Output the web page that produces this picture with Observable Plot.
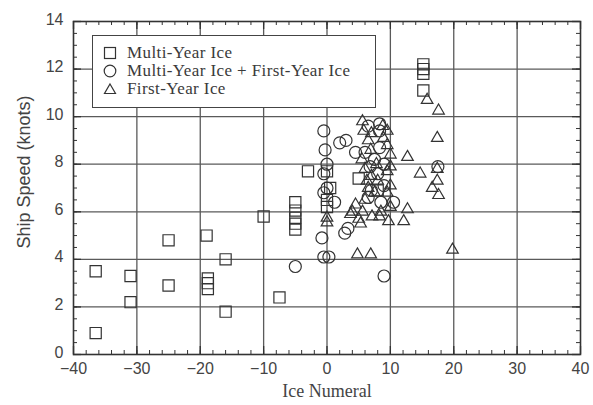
<!DOCTYPE html>
<html><head><meta charset="utf-8">
<script src="https://cdn.jsdelivr.net/npm/d3@7"></script>
<script src="https://cdn.jsdelivr.net/npm/@observablehq/plot@0.6"></script>
<style>
body{margin:0;background:#fff;}
#wrap{position:relative;width:593px;height:405px;}
#legend{position:absolute;left:92px;top:35px;width:284px;height:73px;border:1.5px solid #444;background:#fff;font-family:"Liberation Serif",serif;font-size:17px;letter-spacing:0.4px;color:#3a3a3a;box-sizing:border-box;}
.row{position:absolute;left:10px;height:16px;line-height:16px;display:flex;align-items:center;white-space:nowrap;}
.row span{line-height:16px;display:inline-block;height:16px;}
.row svg{margin-right:10px;}
</style></head>
<body><div id="wrap"></div>
<script>
// Data: [ice numeral, ship speed (knots)]
const multiYearIce = [
  [-36.5,3.5],[-36.5,0.9],[-31,3.3],[-31,2.2],[-25,4.8],[-25,2.9],[-19,5.0],
  [-18.8,3.2],[-18.8,3.0],[-18.8,2.75],[-16,4.0],[-16,1.8],[-10,5.8],[-7.5,2.4],
  [-5,6.4],[-5,6.05],[-5,5.75],[-5,5.5],[-5,5.25],[-3,7.7],[0,7.7],[0,6.5],[0,6.2],
  [0.5,7.0],[5,7.4],[8,6.9],[15.2,12.2],[15.2,12.0],[15.2,11.8],[15.2,11.1]
];
const mixedIce = [
  [-5,3.7],[-0.5,9.4],[-0.3,8.6],[0,8.0],[-0.5,7.6],[0,7.0],[-0.5,6.8],[-0.8,4.9],
  [-0.5,4.1],[0.3,4.1],[1.2,6.4],[2,8.9],[3,9.0],[2.8,5.1],[3.3,5.3],[6.5,9.6],
  [8.3,9.7],[8.3,9.4],[8.3,8.7],[7.5,8.2],[6.8,7.9],[8,7.6],[9,8.0],[7,6.9],
  [6.5,6.6],[8.5,6.4],[10.5,6.4],[9,3.3],[17.5,7.9],[6,8.5],[4.5,8.5],[9,7.1]
];
const firstYearIce = [
  [5.6,9.8],[5.8,9.4],[6.5,9.0],[8.9,9.1],[9.5,9.4],[10,8.4],[6.9,8.6],[12.7,8.3],
  [14.7,7.6],[17.4,9.1],[17.4,7.8],[17.4,7.3],[16.6,7.0],[17.6,6.7],[15.8,10.7],
  [17.6,10.25],[19.8,4.4],[4.8,4.2],[6.9,4.2],[9.7,5.6],[12.1,5.6],[12.7,6.1],
  [3.7,5.9],[4.5,6.3],[5.6,6.0],[7.1,5.8],[5.3,5.5],[0,5.75],[0,5.55],[6,7.8],
  [7,7.5],[8,7.3],[9.5,7.7],[10,7.9],[6.5,7.0],[7.5,6.8],[9.5,6.8],[10,6.2],
  [5.5,8.2],[7.8,8.0],[6,6.5],[8.5,6.0],[4,6.0],[8.8,9.6],[9.5,8.8],[10,7.1],
  [6.3,7.3],[8.3,5.8],[5,5.7],[7,9.3]
];
const xTicks = [-40,-30,-20,-10,0,10,20,30,40];
const yTicks = [0,2,4,6,8,10,12,14];
const xGrid = [-30,-20,-10,0,10,20,30];
const yGrid = [2,4,6,8,10,12];
const xMinor = d3.range(-40, 41, 2);
const yMinor = d3.range(0, 14.01, 0.5);
const legendLabels = ["Multi-Year Ice","Multi-Year Ice + First-Year Ice","First-Year Ice"];

const W = 593, H = 405, mL = 73, mR = 13, mT = 21, mB = 51;
const pw = W - mL - mR, ph = H - mT - mB;
const ink = "#333", gridC = "#5a5a5a";
const minorLen = 4, majorLen = 8;

const chart = Plot.plot({
  width: W, height: H,
  marginLeft: mL, marginRight: mR, marginTop: mT, marginBottom: mB,
  style: {fontFamily: "Liberation Sans, Arial, sans-serif", fontSize: "16px", color: ink, background: "#fff"},
  x: {domain: [-40, 40]},
  y: {domain: [0, 14]},
  marks: [
    Plot.ruleX(xGrid, {stroke: gridC, strokeWidth: 1.3}),
    Plot.ruleY(yGrid, {stroke: gridC, strokeWidth: 1.3}),
    // inward ticks, bottom & top
    Plot.tickX(xMinor, {x: d => d, stroke: ink, insetTop: ph - minorLen}),
    Plot.tickX(xMinor, {x: d => d, stroke: ink, insetBottom: ph - minorLen}),
    Plot.tickX(xTicks, {x: d => d, stroke: ink, strokeWidth: 1.3, insetTop: ph - majorLen}),
    Plot.tickX(xTicks, {x: d => d, stroke: ink, strokeWidth: 1.3, insetBottom: ph - majorLen}),
    // inward ticks, left & right
    Plot.tickY(yMinor, {y: d => d, stroke: ink, insetRight: pw - minorLen}),
    Plot.tickY(yMinor, {y: d => d, stroke: ink, insetLeft: pw - minorLen}),
    Plot.tickY(yTicks, {y: d => d, stroke: ink, strokeWidth: 1.3, insetRight: pw - majorLen}),
    Plot.tickY(yTicks, {y: d => d, stroke: ink, strokeWidth: 1.3, insetLeft: pw - majorLen}),
    Plot.frame({stroke: ink, strokeWidth: 1.6}),
    Plot.dot(multiYearIce, {x: d => d[0], y: d => d[1], symbol: "square", r: 6.3, stroke: ink, strokeWidth: 1.2, fill: "none"}),
    Plot.dot(mixedIce, {x: d => d[0], y: d => d[1], symbol: "circle", r: 6, stroke: ink, strokeWidth: 1.2, fill: "none"}),
    Plot.dot(firstYearIce, {x: d => d[0], y: d => d[1], symbol: "triangle", r: 4.3, stroke: ink, strokeWidth: 1.2, fill: "none"}),
    Plot.axisX(xTicks, {tickSize: 0, tickPadding: 8, fontSize: 16, fill: "#444", label: null}),
    Plot.axisY(yTicks, {tickSize: 0, tickPadding: 10, dy: -2, fontSize: 16, fill: "#444", label: null}),
    Plot.text(["Ice Numeral"], {frameAnchor: "bottom", textAnchor: "middle", lineAnchor: "middle", dy: 37, fontFamily: "Liberation Serif, serif", fontSize: 18, fill: "#444"}),
    Plot.text(["Ship Speed (knots)"], {frameAnchor: "left", textAnchor: "middle", lineAnchor: "middle", dx: -49, dy: -16, rotate: -90, fontSize: 18, fill: "#444"})
  ]
});
const wrap = document.getElementById("wrap");
wrap.appendChild(chart);

// legend inside the plot
const sym = [
  '<svg width="14" height="14"><rect x="1.5" y="1.5" width="11" height="11" fill="none" stroke="#333" stroke-width="1.2"/></svg>',
  '<svg width="14" height="14"><circle cx="7" cy="7" r="5.8" fill="none" stroke="#333" stroke-width="1.2"/></svg>',
  '<svg width="14" height="14"><path d="M7,2 L12.5,11.5 L1.5,11.5 Z" fill="none" stroke="#333" stroke-width="1.2"/></svg>'
];
const lg = document.createElement("div");
lg.id = "legend";
legendLabels.forEach((t, i) => {
  const r = document.createElement("div");
  r.className = "row";
  r.style.top = (9 + i * 18) + "px";
  r.innerHTML = sym[i] + "<span>" + t + "</span>";
  lg.appendChild(r);
});
wrap.appendChild(lg);
</script>
</body></html>
